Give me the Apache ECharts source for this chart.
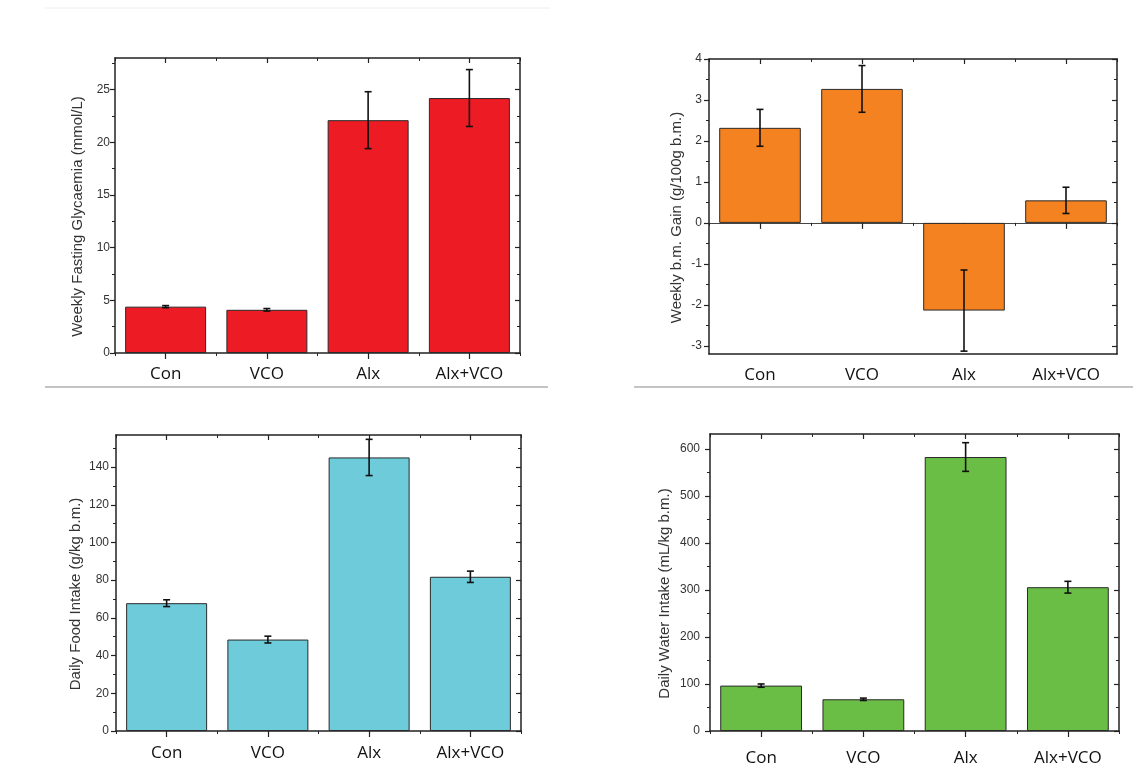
<!DOCTYPE html>
<html>
<head>
<meta charset="utf-8">
<script src="https://cdn.jsdelivr.net/npm/echarts@6/dist/echarts.min.js"></script>
<style>
html,body{margin:0;padding:0;background:#fff;}
#chart{width:1133px;height:769px;}
</style>
</head>
<body>
<div id="chart"></div>
<script>
// ---------- data ----------
const categories = ['Con', 'VCO', 'Alx', 'Alx+VCO'];

const glycaemiaMean = [4.4, 4.1, 22.1, 24.2];
const glycaemiaErr  = [0.1, 0.12, 2.7, 2.7];
const glycaemiaTicks = [0, 5, 10, 15, 20, 25];
const glycaemiaMinor = [2.5, 7.5, 12.5, 17.5, 22.5, 27.5];

const gainMean = [2.32, 3.27, -2.14, 0.55];
const gainErr  = [0.45, 0.57, 0.99, 0.32];
const gainTicks = [-3, -2, -1, 0, 1, 2, 3, 4];
const gainMinor = [-2.5, -1.5, -0.5, 0.5, 1.5, 2.5, 3.5];

const foodMean = [67.8, 48.5, 145.1, 81.8];
const foodErr  = [1.8, 1.8, 9.6, 3.0];
const foodTicks = [0, 20, 40, 60, 80, 100, 120, 140];
const foodMinor = [10, 30, 50, 70, 90, 110, 130, 150];

const waterMean = [96.6, 67.5, 583, 306];
const waterErr  = [3.5, 2.5, 30.5, 12.5];
const waterTicks = [0, 100, 200, 300, 400, 500, 600];
const waterMinor = [50, 150, 250, 350, 450, 550];

// ---------- build ----------
const FRAME = '#222';
const grids = [], xAxes = [], yAxes = [], series = [];

function panel(opt) {
  const g = grids.length;
  grids.push({left: opt.left, top: opt.top, width: opt.width, height: opt.height});
  const base = {gridIndex: g, splitLine: {show: false}};
  const lineStyle = {color: FRAME, width: 1.5};

  // y axes
  const yl = yAxes.length;
  yAxes.push(Object.assign({}, base, {
    type: 'value', position: 'left', min: opt.min, max: opt.max,
    axisLine: {show: true, onZero: false, lineStyle},
    axisTick: {show: true, inside: false, length: 5, customValues: opt.ticks, lineStyle: {color: FRAME, width: 1.2}},
    axisLabel: {show: true, customValues: opt.ticks, margin: opt.tickMargin, fontSize: 12, color: '#333', fontFamily: 'Liberation Sans, Arial'},
    name: opt.name, nameLocation: 'middle', nameRotate: 90, nameGap: opt.nameGap,
    nameTextStyle: {fontSize: 15, color: '#333', fontFamily: 'Liberation Sans, Arial', padding: [0, 22, 0, 0]}
  }));
  yAxes.push(Object.assign({}, base, {
    type: 'value', position: 'left', min: opt.min, max: opt.max,
    axisLine: {show: false, onZero: false},
    axisTick: {show: true, inside: false, length: 3, customValues: opt.minor, lineStyle: {color: FRAME, width: 1}},
    axisLabel: {show: false}
  }));
  yAxes.push(Object.assign({}, base, {
    type: 'value', position: 'right', min: opt.min, max: opt.max,
    axisLine: {show: true, onZero: false, lineStyle},
    axisTick: {show: true, inside: true, length: 5, customValues: opt.ticks, lineStyle: {color: FRAME, width: 1.2}},
    axisLabel: {show: false}
  }));
  yAxes.push(Object.assign({}, base, {
    type: 'value', position: 'right', min: opt.min, max: opt.max,
    axisLine: {show: false, onZero: false},
    axisTick: {show: true, inside: true, length: 3, customValues: opt.minor, lineStyle: {color: FRAME, width: 1}},
    axisLabel: {show: false}
  }));

  // x axes
  const xb = xAxes.length;
  const catBase = Object.assign({}, base, {type: 'category', data: categories, boundaryGap: true});
  xAxes.push(Object.assign({}, catBase, {
    position: 'bottom',
    axisLine: {show: true, onZero: false, lineStyle},
    axisTick: {show: !opt.zero, inside: false, length: 6, alignWithLabel: true, interval: 0, lineStyle: {color: FRAME, width: 1.2}},
    axisLabel: {show: true, interval: 0, margin: opt.labelMargin, fontSize: 17, color: '#111', fontFamily: 'Open Sans'}
  }));
  xAxes.push(Object.assign({}, catBase, {
    position: 'bottom',
    axisLine: {show: false, onZero: false},
    axisTick: {show: !opt.zero, inside: false, length: 3, alignWithLabel: false, interval: 0, lineStyle: {color: FRAME, width: 1}},
    axisLabel: {show: false}
  }));
  xAxes.push(Object.assign({}, catBase, {
    position: 'top',
    axisLine: {show: true, onZero: false, lineStyle},
    axisTick: {show: true, inside: true, length: 5, alignWithLabel: true, interval: 0, lineStyle: {color: FRAME, width: 1.2}},
    axisLabel: {show: false}
  }));
  xAxes.push(Object.assign({}, catBase, {
    position: 'top',
    axisLine: {show: false, onZero: false},
    axisTick: {show: true, inside: true, length: 3, alignWithLabel: false, interval: 0, lineStyle: {color: FRAME, width: 1}},
    axisLabel: {show: false}
  }));
  if (opt.zero) {
    xAxes.push(Object.assign({}, catBase, {
      position: 'bottom',
      axisLine: {show: true, onZero: true, onZeroAxisIndex: yl, lineStyle: {color: '#444', width: 1.2}},
      axisTick: {show: true, inside: false, length: 6, alignWithLabel: true, interval: 0, lineStyle: {color: FRAME, width: 1.2}},
      axisLabel: {show: false}
    }));
    xAxes.push(Object.assign({}, catBase, {
      position: 'bottom',
      axisLine: {show: false, onZero: true, onZeroAxisIndex: yl},
      axisTick: {show: true, inside: false, length: 3, alignWithLabel: false, interval: 0, lineStyle: {color: FRAME, width: 1}},
      axisLabel: {show: false}
    }));
  }

  series.push({
    type: 'bar', xAxisIndex: xb, yAxisIndex: yl, data: opt.mean,
    barCategoryGap: '20%', z: 2,
    itemStyle: {color: opt.color, borderColor: '#2a2a2a', borderWidth: 1}
  });
  series.push({
    type: 'custom', xAxisIndex: xb, yAxisIndex: yl, z: 5,
    data: opt.mean.map((m, i) => [i, m - opt.err[i], m + opt.err[i]]),
    renderItem: function (params, api) {
      const x = api.value(0);
      const pHi = api.coord([x, api.value(2)]);
      const pLo = api.coord([x, api.value(1)]);
      const w = 3.5;
      const st = {stroke: '#111', lineWidth: 1.6};
      return {type: 'group', children: [
        {type: 'line', shape: {x1: pHi[0], y1: pHi[1], x2: pLo[0], y2: pLo[1]}, style: st},
        {type: 'line', shape: {x1: pHi[0] - w, y1: pHi[1], x2: pHi[0] + w, y2: pHi[1]}, style: st},
        {type: 'line', shape: {x1: pLo[0] - w, y1: pLo[1], x2: pLo[0] + w, y2: pLo[1]}, style: st}
      ]};
    }
  });
}

panel({left: 115, top: 58, width: 405, height: 295, min: 0, max: 28,
  ticks: glycaemiaTicks, minor: glycaemiaMinor, mean: glycaemiaMean, err: glycaemiaErr,
  color: '#ED1C24', name: 'Weekly Fasting Glycaemia (mmol/L)', nameGap: 30, labelMargin: 13, tickMargin: 5});
panel({left: 709, top: 59, width: 408, height: 295, min: -3.2, max: 4,
  ticks: gainTicks, minor: gainMinor, mean: gainMean, err: gainErr, zero: true,
  color: '#F58220', name: 'Weekly b.m. Gain (g/100g b.m.)', nameGap: 25, labelMargin: 13, tickMargin: 7});
panel({left: 116, top: 435, width: 405, height: 296, min: 0, max: 157,
  ticks: foodTicks, minor: foodMinor, mean: foodMean, err: foodErr,
  color: '#6DCBDA', name: 'Daily Food Intake (g/kg b.m.)', nameGap: 33, labelMargin: 14, tickMargin: 7});
panel({left: 710, top: 434, width: 409, height: 297, min: 0, max: 632,
  ticks: waterTicks, minor: waterMinor, mean: waterMean, err: waterErr,
  color: '#6ABD45', name: 'Daily Water Intake (mL/kg b.m.)', nameGap: 38, labelMargin: 19, tickMargin: 10});

const chart = echarts.init(document.getElementById('chart'), null, {renderer: 'canvas'});
chart.setOption({
  backgroundColor: '#fff',
  animation: false,
  grid: grids,
  xAxis: xAxes,
  yAxis: yAxes,
  series: series,
  graphic: [
    {type: 'line', shape: {x1: 45, y1: 8, x2: 550, y2: 8}, style: {stroke: '#eeeeee', lineWidth: 1}},
    {type: 'line', shape: {x1: 45, y1: 387, x2: 548, y2: 387}, style: {stroke: '#c4c4c4', lineWidth: 2}},
    {type: 'line', shape: {x1: 634, y1: 387, x2: 1133, y2: 387}, style: {stroke: '#c4c4c4', lineWidth: 2}}
  ]
});
</script>
</body>
</html>
